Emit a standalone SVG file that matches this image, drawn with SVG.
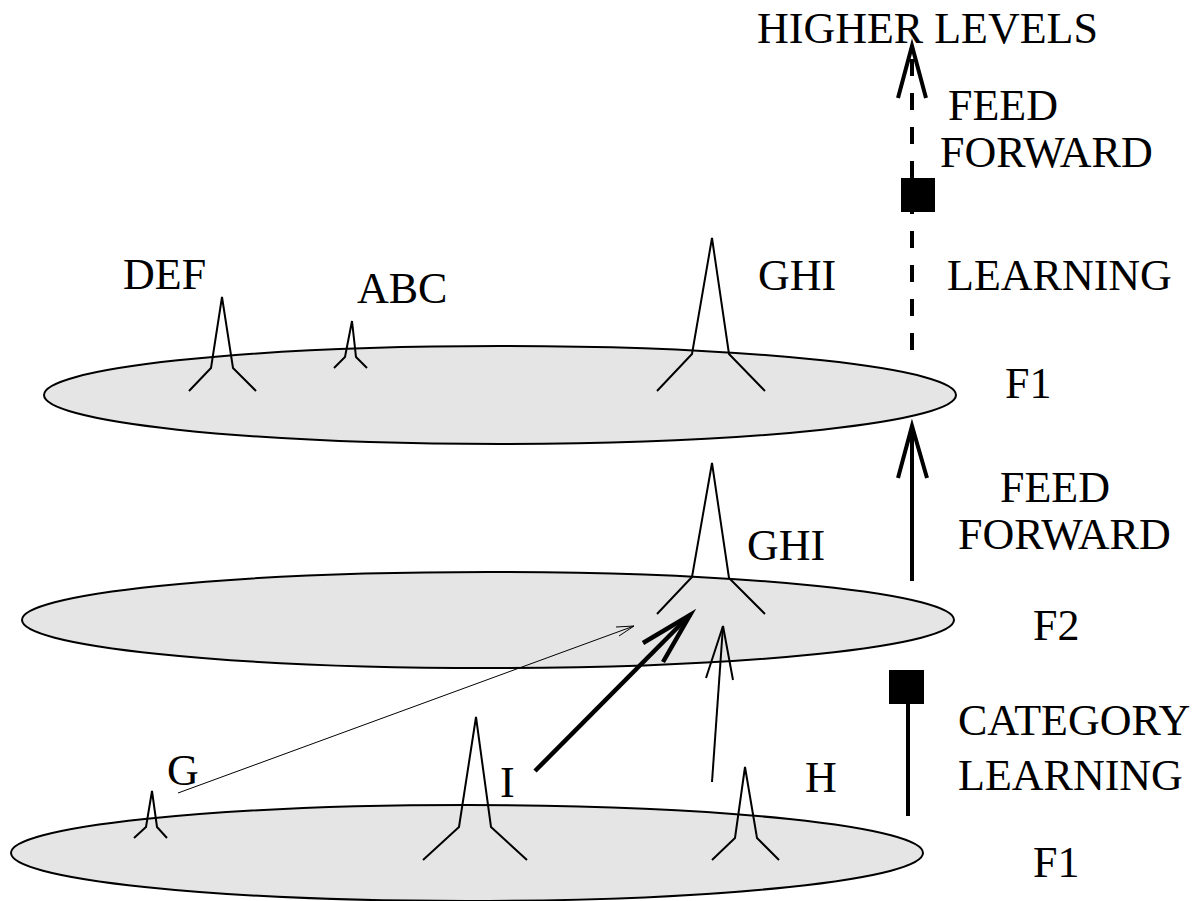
<svg xmlns="http://www.w3.org/2000/svg" width="1202" height="901" viewBox="0 0 1202 901">
  <style>
    .field { fill: #e5e5e5; stroke: #000; stroke-width: 2; }
    .spike { fill: none; stroke: #000; stroke-width: 2; stroke-linejoin: miter; }
    .lbl { font-family: "Liberation Serif", "Times New Roman", serif; font-size: 44px; fill: #000; }
    .ln { fill: none; stroke: #000; stroke-linecap: butt; }
  </style>
  <rect width="1202" height="901" fill="#fff"/>

  <!-- upper F1 field -->
  <g id="upper-f1">
    <ellipse class="field" cx="500" cy="395" rx="456" ry="49"/>
    <polyline class="spike" points="189,391 211,368 222,297 233,368 256,391"/>
    <polyline class="spike" points="334,368 345,357 352,321 356,357 367,368"/>
    <polyline class="spike" points="657,391 692,354 712,238 729,354 765,391"/>
    <text class="lbl" x="123" y="289">DEF</text>
    <text class="lbl" x="357" y="303">ABC</text>
    <text class="lbl" x="758" y="290">GHI</text>
    <text class="lbl" x="1005" y="398">F1</text>
  </g>

  <!-- F2 field -->
  <g id="f2">
    <ellipse class="field" cx="488" cy="620" rx="466" ry="48"/>
    <polyline class="spike" points="657,614 692,577 712,463 729,578 765,614"/>
    <text class="lbl" x="747" y="560">GHI</text>
    <text class="lbl" x="1033" y="640">F2</text>
  </g>

  <!-- lower F1 field -->
  <g id="lower-f1">
    <ellipse class="field" cx="467" cy="853" rx="456" ry="48"/>
    <polyline class="spike" points="134,838 146,827 152,791 157,827 167,838"/>
    <polyline class="spike" points="423,860 459,827 476,717 491,827 527,860"/>
    <polyline class="spike" points="712,860 735,838 745,767 757,838 779,860"/>
    <text class="lbl" x="167" y="785">G</text>
    <text class="lbl" x="500" y="797">I</text>
    <text class="lbl" x="805" y="792">H</text>
    <text class="lbl" x="1033" y="877">F1</text>
  </g>

  <!-- side labels -->
  <g id="labels">
    <text class="lbl" x="757" y="43">HIGHER LEVELS</text>
    <text class="lbl" x="948" y="120">FEED</text>
    <text class="lbl" x="940" y="167">FORWARD</text>
    <text class="lbl" x="947" y="290">LEARNING</text>
    <text class="lbl" x="1000" y="502">FEED</text>
    <text class="lbl" x="958" y="549">FORWARD</text>
    <text class="lbl" x="958" y="735">CATEGORY</text>
    <text class="lbl" x="958" y="790">LEARNING</text>
  </g>

  <!-- connectors -->
  <g id="connectors">
    <!-- G to F2 (weak) -->
    <line class="ln" x1="178" y1="793" x2="634" y2="626" stroke-width="1"/>
    <polyline class="ln" points="619,636 634,626 616,627" stroke-width="1"/>
    <!-- I to F2 (strong) -->
    <line class="ln" x1="535" y1="771" x2="690" y2="615" stroke-width="4.5"/>
    <polyline class="ln" points="643,643 690,615 663,662" stroke-width="4.5"/>
    <!-- H to F2 (medium) -->
    <line class="ln" x1="712" y1="782" x2="723" y2="626" stroke-width="2"/>
    <polyline class="ln" points="706,678 723,626 733,680" stroke-width="2"/>
    <!-- category learning: lower F1 to F2 -->
    <line class="ln" x1="908" y1="816" x2="908" y2="700" stroke-width="4"/>
    <rect x="889" y="670" width="35" height="34" fill="#000"/>
    <!-- feed forward: F2 to upper F1 -->
    <line class="ln" x1="912" y1="581" x2="912" y2="426" stroke-width="4"/>
    <polyline class="ln" points="898,478 912,426 927,478" stroke-width="4"/>
    <!-- learning: upper F1 to higher levels -->
    <line class="ln" x1="912" y1="350" x2="912" y2="212" stroke-width="4" stroke-dasharray="17,17"/>
    <rect x="901" y="178" width="34" height="34" fill="#000"/>
    <line class="ln" x1="912" y1="178" x2="912" y2="50" stroke-width="4" stroke-dasharray="17,17"/>
    <polyline class="ln" points="898,98 912,46 926,98" stroke-width="4"/>
  </g>
</svg>
